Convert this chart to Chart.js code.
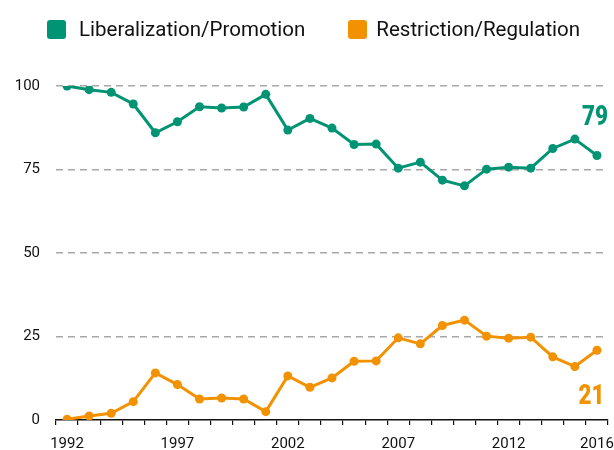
<!DOCTYPE html>
<html>
<head>
<meta charset="utf-8">
<script src="https://cdn.jsdelivr.net/npm/chart.js@4/dist/chart.umd.min.js"></script>
<style>
  html, body { margin: 0; padding: 0; background: #fff; }
  #wrap { position: relative; width: 614px; height: 450px; }
  #legend { position: absolute; left: 47px; top: 17px; display: flex; align-items: center;
    font-family: 'Roboto', sans-serif; font-size: 20.5px; color: #111; }
  .item { display: flex; align-items: center; }
  .sw { width: 19px; height: 19px; border-radius: 3px; margin-right: 13px; }
  .item + .item { margin-left: 43px; }
  .item + .item .sw { margin-right: 9px; }
</style>
</head>
<body>
<div id="wrap">
  <canvas id="c" width="614" height="450"></canvas>
  <div id="legend"></div>
</div>
<script>
const years = ['1992','1993','1994','1995','1996','1997','1998','1999','2000','2001','2002','2003','2004',
               '2005','2006','2007','2008','2009','2010','2011','2012','2013','2014','2015','2016'];
const shownYears = ['1992','1997','2002','2007','2012','2016'];
const liberalization = [100, 98.9, 98.1, 94.6, 86.0, 89.3, 93.8, 93.4, 93.7, 97.5, 86.8, 90.3, 87.4,
                        82.5, 82.6, 75.4, 77.2, 71.8, 70.1, 75.1, 75.7, 75.4, 81.3, 84.1, 79.2];
const restriction = [0.2, 1.2, 2.0, 5.5, 14.1, 10.6, 6.3, 6.6, 6.3, 2.5, 13.2, 9.8, 12.6,
                     17.6, 17.7, 24.6, 22.8, 28.3, 29.9, 25.1, 24.5, 24.8, 18.9, 16.0, 20.9];
const yTicks = [0, 25, 50, 75, 100];
const seriesNames = ['Liberalization/Promotion', 'Restriction/Regulation'];

const GREEN = '#009474';
const ORANGE = '#f39200';
const FONT = "'Roboto', sans-serif";

// HTML legend built from series names/colors
const legendEl = document.getElementById('legend');
[[seriesNames[0], GREEN], [seriesNames[1], ORANGE]].forEach(([name, col]) => {
  const it = document.createElement('div'); it.className = 'item';
  const sw = document.createElement('div'); sw.className = 'sw'; sw.style.background = col;
  const tx = document.createElement('span'); tx.textContent = name;
  it.appendChild(sw); it.appendChild(tx); legendEl.appendChild(it);
});

const endLabels = {
  id: 'endLabels',
  afterDatasetsDraw(chart, args, opts) {
    const ctx = chart.ctx;
    chart.data.datasets.forEach((ds, i) => {
      const meta = chart.getDatasetMeta(i);
      const pt = meta.data[meta.data.length - 1];
      const v = ds.data[ds.data.length - 1];
      const off = opts.offsets[i];
      ctx.save();
      ctx.translate(pt.x + off.dx, pt.y + off.dy);
      ctx.scale(0.8, 1);
      ctx.font = '900 28px ' + FONT;
      ctx.fillStyle = ds.borderColor;
      ctx.textAlign = 'center';
      ctx.textBaseline = 'middle';
      ctx.fillText(String(Math.round(v)), 0, 0);
      ctx.restore();
    });
  }
};

new Chart(document.getElementById('c'), {
  type: 'line',
  data: {
    labels: years,
    datasets: [
      { label: seriesNames[0], data: liberalization, borderColor: GREEN, backgroundColor: GREEN,
        borderWidth: 3, pointRadius: 4.5, pointBorderWidth: 0, pointBackgroundColor: GREEN, tension: 0 },
      { label: seriesNames[1], data: restriction, borderColor: ORANGE, backgroundColor: ORANGE,
        borderWidth: 3, pointRadius: 4.5, pointBorderWidth: 0, pointBackgroundColor: ORANGE, tension: 0 }
    ]
  },
  options: {
    responsive: false,
    animation: false,
    layout: { padding: { top: 86, right: 6, left: 0, bottom: 0 } },
    plugins: {
      legend: { display: false },
      tooltip: { enabled: false },
      endLabels: { offsets: [{ dx: -2, dy: -37.5 }, { dx: -5.5, dy: 47 }] }
    },
    scales: {
      x: {
        type: 'category',
        offset: true,
        grid: { offset: true, drawOnChartArea: false, drawTicks: true, tickLength: 5, color: '#111', lineWidth: 1.2 },
        border: { display: true, color: '#111', width: 1.5 },
        ticks: {
          autoSkip: false, maxRotation: 0, padding: 10, color: '#111',
          font: { family: FONT, size: 15 },
          callback: function(val) { const l = this.getLabelForValue(val); return shownYears.includes(l) ? l : ''; }
        },
        afterFit(scale) { scale.height = 30; scale.paddingLeft = 0; scale.paddingRight = 0; }
      },
      y: {
        min: 0, max: 100,
        afterBuildTicks(scale) { scale.ticks = yTicks.map(v => ({ value: v })); },
        grid: {
          drawTicks: false,
          color: (c) => c.tick && c.tick.value === 0 ? 'rgba(0,0,0,0)' : '#a8a8a8',
          lineWidth: 1.5,
          borderDash: [7, 5]
        },
        border: { display: true, color: 'rgba(0,0,0,0)', width: 0, dash: [7, 5] },
        ticks: { padding: 16, color: '#111', font: { family: FONT, size: 15 } },
        afterFit(scale) { scale.width = 56; scale.paddingTop = 0; scale.paddingBottom = 0; }
      }
    }
  },
  plugins: [endLabels]
});
</script>
</body>
</html>
